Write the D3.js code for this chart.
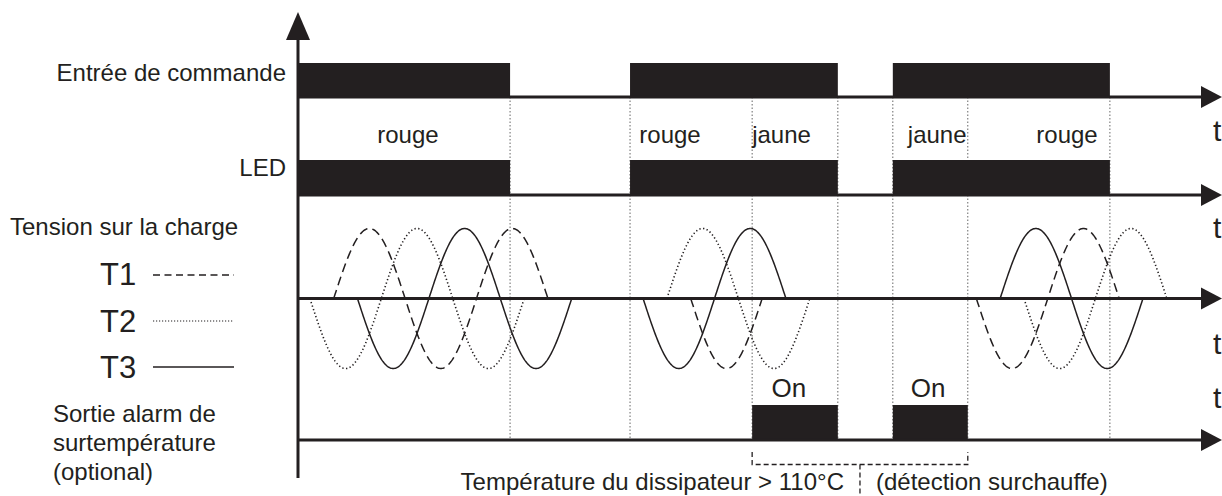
<!DOCTYPE html>
<html>
<head>
<meta charset="utf-8">
<script src="https://cdn.jsdelivr.net/npm/d3@7"></script>
<style>
	body { margin: 0; background: #fff; }
	svg text { font-family: "Liberation Sans", Arial, sans-serif; fill: #231f20; }
</style>
</head>
<body>
<svg id="timing"></svg>
<script>
// time in ms (50 Hz mains, period 20 ms)
var commandOn = [[0, 29.7], [46.5, 75.6], [83.3, 113.7]];
var ledOn = [[0, 29.7], [46.5, 75.6], [83.3, 113.7]];
var ledLabels = [["rouge", 11.1], ["rouge", 47.8], ["jaune", 63.6], ["jaune", 85.4], ["rouge", 103.4]];
var alarmOn = [[63.6, 75.6], [83.3, 93.8]];
var alarmLabels = [["On", 66.3], ["On", 85.8]];
var guideTimes = [29.7, 46.5, 63.6, 75.6, 83.3, 93.8, 113.7];
var period = 20;
var phaseNames = ["T1", "T2", "T3"];
var phaseZero = [5, 11.67, 18.33];
var phaseWindows = [
	[[5, 35], [55, 65], [95, 115]],
	[[1.67, 31.67], [51.67, 71.67], [101.67, 121.67]],
	[[8.33, 38.33], [48.33, 68.33], [98.33, 118.33]]
];
var tempBracket = [63.6, 93.8];

var width = 1222, height = 496;
var ink = "#231f20";
var svg = d3.select("#timing").attr("width", width).attr("height", height);

var x = d3.scaleLinear().domain([0, 129.4]).range([298, 1222]);
var wave = d3.scaleLinear().domain([-1, 1]).range([368.5, 228.5]);
var xEnd = x.domain()[1];

// row baselines
var cmdBase = 97, ledBase = 195, waveBase = 298.5, alarmBase = 440;

// guides
svg.selectAll(".guide").data(guideTimes).enter().append("line")
	.attr("x1", d => x(d)).attr("x2", d => x(d))
	.attr("y1", cmdBase).attr("y2", alarmBase)
	.attr("stroke", "#666").attr("stroke-width", 1).attr("stroke-dasharray", "1.5,2");

function pulses(data, base, h) {
	svg.append("g").selectAll("rect").data(data).enter().append("rect")
		.attr("x", d => x(d[0])).attr("width", d => x(d[1]) - x(d[0]))
		.attr("y", base - h).attr("height", h).attr("fill", ink);
}
pulses(commandOn, cmdBase, 34);
pulses(ledOn, ledBase, 35);
pulses(alarmOn, alarmBase, 35);

function timeAxis(base, ty) {
	svg.append("line").attr("x1", x(0)).attr("x2", x(xEnd) - 18)
		.attr("y1", base).attr("y2", base).attr("stroke", ink).attr("stroke-width", 3);
	svg.append("path")
		.attr("d", "M" + x(xEnd) + "," + base + "L" + (x(xEnd) - 21) + "," + (base - 11) + "L" + (x(xEnd) - 21) + "," + (base + 11) + "Z")
		.attr("fill", ink);
	svg.append("text").attr("x", x(xEnd) - 9).attr("y", ty).attr("font-size", 30).text("t");
}
timeAxis(cmdBase, 141);
timeAxis(ledBase, 238);
timeAxis(waveBase, 354);
timeAxis(alarmBase, 408);

// vertical axis
svg.append("line").attr("x1", x(0)).attr("x2", x(0)).attr("y1", 36).attr("y2", 478)
	.attr("stroke", ink).attr("stroke-width", 3);
svg.append("path").attr("d", "M" + x(0) + ",12L" + (x(0) - 12) + ",40L" + (x(0) + 12) + ",40Z").attr("fill", ink);

// three-phase waveforms
var dashes = ["9,5", "1.3,2.4", null];
var line = d3.line().x(d => x(d[0])).y(d => wave(d[1]));
phaseWindows.forEach(function(wins, i) {
	wins.forEach(function(w) {
		var pts = d3.range(w[0], w[1] + 0.001, 0.1).map(t => [t, Math.sin(2 * Math.PI * (t - phaseZero[i]) / period)]);
		svg.append("path").attr("d", line(pts)).attr("fill", "none").attr("stroke", ink)
			.attr("stroke-width", i == 1 ? 1.6 : 1.5).attr("stroke-dasharray", dashes[i]);
	});
});

// labels
var fs = 24;
svg.selectAll(".led").data(ledLabels).enter().append("text")
	.attr("x", d => x(d[1])).attr("y", 143).attr("font-size", fs).text(d => d[0]);
svg.selectAll(".on").data(alarmLabels).enter().append("text")
	.attr("x", d => x(d[1])).attr("y", 397).attr("font-size", 26).text(d => d[0]);

svg.append("text").attr("x", 286).attr("y", 81).attr("text-anchor", "end").attr("font-size", fs).text("Entrée de commande");
svg.append("text").attr("x", 286).attr("y", 176).attr("text-anchor", "end").attr("font-size", fs).text("LED");
svg.append("text").attr("x", 10).attr("y", 235).attr("font-size", fs).text("Tension sur la charge");
svg.append("text").attr("x", 53).attr("y", 422).attr("font-size", fs).text("Sortie alarm de");
svg.append("text").attr("x", 53).attr("y", 451).attr("font-size", fs).text("surtempérature");
svg.append("text").attr("x", 53).attr("y", 480).attr("font-size", fs).text("(optional)");

var legY = [275, 321, 367], labY = [285, 332, 378];
phaseNames.forEach(function(n, i) {
	svg.append("text").attr("x", 100).attr("y", labY[i]).attr("font-size", 31).text(n);
	svg.append("line").attr("x1", 153).attr("x2", 234).attr("y1", legY[i]).attr("y2", legY[i])
		.attr("stroke", ink).attr("stroke-width", i == 1 ? 1.2 : 1.3)
		.attr("stroke-dasharray", i == 0 ? "7,4.5" : (i == 1 ? "1.2,1.8" : null));
});

// temperature bracket
var bx0 = x(tempBracket[0]), bx1 = x(tempBracket[1]), bxm = (bx0 + bx1) / 2;
svg.append("path").attr("d", "M" + bx0 + ",452V464.5H" + bx1 + "V452M" + bxm + ",464.5V496")
	.attr("fill", "none").attr("stroke", ink).attr("stroke-width", 1.3).attr("stroke-dasharray", "5,3");
svg.append("text").attr("x", bxm - 16).attr("y", 490).attr("text-anchor", "end").attr("font-size", fs)
	.text("Température du dissipateur > 110°C");
svg.append("text").attr("x", bxm + 16).attr("y", 490).attr("font-size", fs).text("(détection surchauffe)");
</script>
</body>
</html>
